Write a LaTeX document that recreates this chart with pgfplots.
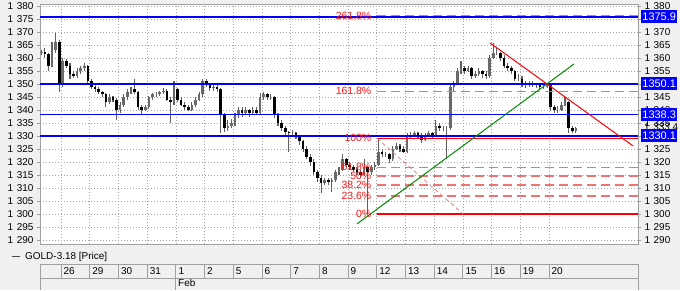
\documentclass[border=0pt]{standalone}
\usepackage{fontspec}
\setmainfont{Liberation Sans}
\usepackage{pgfplots}
\pgfplotsset{compat=1.18}
\usepackage{pgfplotstable}
\definecolor{bg}{RGB}{240,240,240}
\definecolor{gridc}{RGB}{165,165,165}
\definecolor{framec}{RGB}{160,160,160}
\definecolor{lblue}{RGB}{0,0,255}
\definecolor{fibred}{RGB}{255,0,0}
\definecolor{fibdash}{RGB}{240,115,115}
\definecolor{fibtext}{RGB}{255,20,20}
\definecolor{tgreen}{RGB}{0,140,0}
\definecolor{wick}{RGB}{95,95,95}
\definecolor{upbody}{RGB}{105,105,105}
\newcommand\fs{\fontsize{10}{12}\selectfont}
\newcommand\tl[1]{1\hspace{3.6bp}#1}
\pgfplotstableread{
o h l c
1362 1363 1361 1362.5
1362.5 1364 1360 1361.5
1361.5 1362 1355 1357
1357 1366 1356.5 1363
1363 1369.5 1362 1366
1366 1367 1347 1350
1350 1360 1349 1359
1359 1359.5 1356 1357
1357 1358 1352 1354
1354 1355 1352.5 1353
1353 1356 1352.5 1355
1355 1357 1354 1356
1356 1358 1355 1357
1357 1357.5 1350 1351
1351 1352 1348 1349
1349 1350 1347 1348
1348 1349 1346 1347
1347 1347.5 1345 1346
1346 1346.5 1341 1343
1343 1346 1342.5 1345
1345 1345.5 1343 1344
1344 1344.5 1336 1340
1340 1343 1339 1342
1342 1346 1341 1345
1345 1348 1344 1347
1347 1349 1346 1348
1348 1352 1346 1347
1347 1347.5 1340 1341
1341 1342 1338.5 1340
1340 1342 1339.5 1341
1341 1345.5 1340.5 1345
1345 1346.5 1344 1346
1346 1347 1345 1346
1346 1347.5 1345.5 1347
1347 1348.5 1346 1347.5
1347.5 1348 1343.5 1344
1344 1345 1335 1343
1343 1351 1342 1348
1348 1348.5 1343 1344
1344 1345 1341.5 1342
1342 1343 1340 1341
1341 1342 1339.5 1340
1340 1343 1339.5 1342
1342 1345 1341 1344
1344 1347 1343.5 1346
1346 1352 1345 1351
1351 1352 1349 1350
1350 1350.5 1347.5 1348.5
1348.5 1349.5 1347.5 1349
1349 1350 1347 1348
1348 1348.5 1331 1338
1338 1339 1331.5 1333
1333 1336 1332 1334
1334 1336.5 1333 1335
1335 1339 1334 1338
1338 1341 1337 1340
1340 1341 1337.5 1339
1339 1341 1338 1340
1340 1340.5 1337.5 1339
1339 1341 1338 1340
1340 1341 1338 1339
1339 1346.5 1338.5 1345
1345 1347 1344 1346
1346 1346.5 1344 1345
1345 1346 1344 1345
1345 1345.5 1337 1338
1338 1339 1334 1335
1335 1336 1332 1333
1333 1334 1330.5 1331.5
1331.5 1332 1324 1331
1331 1332.5 1330 1331
1331 1331.5 1329 1330
1330 1330.5 1326.5 1328
1328 1328.5 1324 1325
1325 1326 1321 1322
1322 1323 1318.5 1320
1320 1321 1315 1316
1316 1317 1312.5 1314
1314 1315 1308 1312
1312 1314 1311 1313
1313 1314 1311 1312.5
1312.5 1314 1308.5 1313
1313 1317 1312.5 1316
1316 1318 1315 1317
1317 1323 1316.5 1321
1321 1321.5 1318 1319
1319 1320 1317 1318
1318 1319 1316 1317
1317 1318 1315 1316
1316 1317 1314 1315
1315 1321 1314.5 1318
1318 1318.5 1300 1316
1316 1319 1315 1318
1318 1320 1317 1319
1319 1329.2 1318.5 1324
1324 1325 1322 1323
1323 1324 1322 1323
1323 1323.5 1319.5 1321
1321 1326 1320.5 1325
1325 1327.5 1324.5 1326
1326 1327 1324 1325
1325 1326 1323.5 1324
1324 1331 1323.5 1330
1330 1331.5 1329 1330
1330 1332 1329.5 1331
1331 1331.5 1329 1330
1330 1331 1327.5 1328.5
1328.5 1331 1328 1330
1330 1332 1329.5 1331
1331 1331.5 1329 1330
1330 1336 1329.5 1334
1334 1335 1332 1333
1333 1334 1332 1333
1333 1334 1321 1333
1333 1350 1332.5 1349
1349 1351 1347 1350
1350 1356 1349.5 1355
1355 1359 1354 1356
1356 1357 1354 1355
1355 1357 1354.5 1356
1356 1356.5 1352 1353
1353 1355 1352.5 1354
1354 1356 1353 1355
1355 1355.5 1352.5 1354
1354 1355 1352 1353
1353 1361 1352.5 1360
1360 1365.8 1359.5 1362
1362 1364 1361 1362
1362 1362.5 1359 1360
1360 1361 1356 1357
1357 1358 1355 1356
1356 1357 1354 1355
1355 1355.5 1351 1352
1352 1354 1351 1352
1352 1353 1349 1350
1350 1351 1348.5 1349.5
1349.5 1351 1349 1350
1350 1351 1349 1350
1350 1350.5 1348.5 1349.5
1349.5 1350 1348 1349
1349 1350 1348 1349
1349 1350.5 1348.5 1349.5
1349.5 1350 1339.5 1341
1341 1342 1339 1340
1340 1341.5 1339 1340
1340 1343 1339.5 1342
1342 1345 1341.5 1343
1343 1343.5 1331 1333
1333 1334 1331 1332
1332 1333.5 1331 1333
}\bars
\pgfplotsset{ohlc/.style={draw=none, no marks, forget plot,
  error bars/.cd, y dir=plus, y explicit, error mark=none}}
\begin{document}
\begin{tikzpicture}[x=1bp,y=1bp]
\fill[bg] (0,0) rectangle (680,290);
\useasboundingbox (0,0) rectangle (680,290);
\begin{axis}[
  at={(40bp,46bp)}, anchor=south west,
  scale only axis, width=598bp, height=240bp,
  xmin=-0.7317, xmax=20.105, ymin=1288.4615, ymax=1380.7692,
  axis background/.style={fill=white},
  axis line style={draw=framec, line width=0.6bp},
  xtick={0,...,17}, xticklabels={},
  xtick style={draw=none},
  ytick={1290,1295,...,1380},
  yticklabels={\tl{290},\tl{295},\tl{300},\tl{305},\tl{310},\tl{315},\tl{320},\tl{325},\tl{330},\tl{335},\tl{340},\tl{345},\tl{350},\tl{355},\tl{360},\tl{365},\tl{370},\tl{375},\tl{380}},
  ytick pos=left, tick align=outside, major tick length=3bp,
  ytick style={draw=framec, line width=0.6bp},
  yticklabel style={font=\fs},
  grid=major,
  major grid style={draw=gridc, line width=0.6bp, dash pattern=on 1bp off 2bp},
]
% wicks
\addplot[ohlc, error bar style={draw=wick, line width=1.1bp, solid}]
  table[x expr=-0.6875+0.125*\coordindex, y=l, y error expr=\thisrow{h}-\thisrow{l}] {\bars};
% up bodies
\addplot[ohlc, error bar style={draw=upbody, line width=2.6bp, solid}]
  table[x expr=-0.6875+0.125*\coordindex, y=o, y error expr={max(\thisrow{c}-\thisrow{o},0)}] {\bars};
% down bodies
\addplot[ohlc, error bar style={draw=black, line width=2.6bp, solid}]
  table[x expr=-0.6875+0.125*\coordindex, y=c, y error expr={max(\thisrow{o}-\thisrow{c},0)}] {\bars};
% blue horizontal levels
\addplot[lblue, line width=1.7bp] coordinates {(-1,1375.9) (21,1375.9)};
\addplot[lblue, line width=1.7bp] coordinates {(-1,1350.1) (21,1350.1)};
\addplot[lblue, line width=1.7bp] coordinates {(-1,1338.3) (21,1338.3)};
\addplot[lblue, line width=1.8bp] coordinates {(-1,1330.1) (21,1330.1)};
% fibonacci
\addplot[fibdash, line width=1.3bp, dash pattern=on 9bp off 5bp] coordinates {(11.01,1376.3) (21,1376.3)};
\addplot[fibdash, line width=1.3bp, dash pattern=on 9bp off 5bp] coordinates {(11.01,1347.2) (21,1347.2)};
\addplot[fibdash, line width=1.3bp, dash pattern=on 9bp off 5bp] coordinates {(11.01,1318.0) (21,1318.0)};
\addplot[fibdash, line width=1.3bp, dash pattern=on 9bp off 5bp] coordinates {(11.01,1314.6) (21,1314.6)};
\addplot[fibdash, line width=1.3bp, dash pattern=on 9bp off 5bp] coordinates {(11.01,1311.1) (21,1311.1)};
\addplot[fibdash, line width=1.3bp, dash pattern=on 9bp off 5bp] coordinates {(11.01,1306.9) (21,1306.9)};
\addplot[fibred, line width=1.3bp] coordinates {(11.01,1329.1) (21,1329.1)};
\addplot[fibred, line width=1.3bp] coordinates {(11.01,1300.0) (21,1300.0)};
\addplot[fibdash, line width=0.7bp, dash pattern=on 4bp off 3bp] coordinates {(11.01,1329.1) (14.01,1300.0)};
% trend lines
\addplot[tgreen, line width=1bp] coordinates {(10.314,1296.2) (17.875,1357.7)};
\addplot[fibred, line width=1bp] coordinates {(14.948,1365.8) (19.93,1326.2)};
% fib labels
\begin{scope}[every node/.style={anchor=east, inner sep=0.5bp, text=fibtext, font=\fontsize{10.5}{12}\selectfont}]
\node at (axis cs:10.836,1376.3) {261.8\%};
\node at (axis cs:10.836,1347.2) {161.8\%};
\node at (axis cs:10.836,1329.1) {100\%};
\node at (axis cs:10.836,1318.0) {61.8\%};
\node at (axis cs:10.836,1314.6) {50\%};
\node at (axis cs:10.836,1311.1) {38.2\%};
\node at (axis cs:10.836,1306.9) {23.6\%};
\node at (axis cs:10.836,1300.0) {0\%};
\end{scope}
\end{axis}
\begin{axis}[
  at={(40bp,46bp)}, anchor=south west,
  scale only axis, width=598bp, height=240bp,
  xmin=-0.7317, xmax=20.105, ymin=1288.4615, ymax=1380.7692,
  axis line style={draw=none}, xtick=\empty,
  ytick={1290,1295,...,1380},
  yticklabels={\tl{290},\tl{295},\tl{300},\tl{305},\tl{310},\tl{315},\tl{320},\tl{325},\tl{330},\tl{335},\tl{340},\tl{345},\tl{350},\tl{355},\tl{360},\tl{365},\tl{370},\tl{375},\tl{380}},
  ytick pos=right, yticklabel pos=right, tick align=outside, major tick length=3bp,
  ytick style={draw=framec, line width=0.6bp},
  yticklabel style={font=\fs},
  clip=false,
]
\coordinate (b1) at (axis cs:20.105,1375.9);
\coordinate (b2) at (axis cs:20.105,1350.1);
\coordinate (b3) at (axis cs:20.105,1338.3);
\coordinate (b4) at (axis cs:20.105,1330.1);
\coordinate (b5) at (axis cs:20.105,1333.4);
\end{axis}
\draw[framec, line width=0.6bp] (638,46) -- (638,286);
\node[anchor=west, inner sep=0, font=\fs, xshift=6bp] at (b5) {\tl{333.4}};
\begin{scope}[every node/.style={anchor=west, xshift=3bp, fill=lblue, text=white, inner xsep=1.2bp, inner ysep=0bp, minimum height=12.7bp, font=\fontsize{11}{12}\selectfont}]
\node at (b1) {1375.9};
\node at (b2) {1350.1};
\node at (b3) {1338.3};
\node at (b4) {1330.1};
\end{scope}
% legend
\draw[black!70, line width=0.8bp] (12,34) -- (20,34);
\node[anchor=base west, inner sep=0, font=\fs] at (25,30.7) {GOLD-3.18 [Price]};
% date table
\draw[framec, line width=0.8bp] (40,0) -- (40,26) -- (638,26) -- (638,0);
\draw[framec, line width=0.8bp] (40,12) -- (638,12);
\foreach \k in {0,...,17} { \draw[framec, line width=0.8bp] ({61+28.7*\k},12) -- ({61+28.7*\k},26); }
\draw[framec, line width=0.8bp] (175.8,0) -- (175.8,12);
\foreach \k/\d in {0/26,1/29,2/30,3/31,4/1,5/2,6/5,7/6,8/7,9/8,10/9,11/12,12/13,13/14,14/15,15/16,16/19,17/20} {
  \node[anchor=base west, inner sep=0, font=\fs] at ({61+28.7*\k+2.5},15.8) {\d};
}
\node[anchor=base west, inner sep=0, font=\fs] at (178,3.3) {Feb};
\end{tikzpicture}
\end{document}
